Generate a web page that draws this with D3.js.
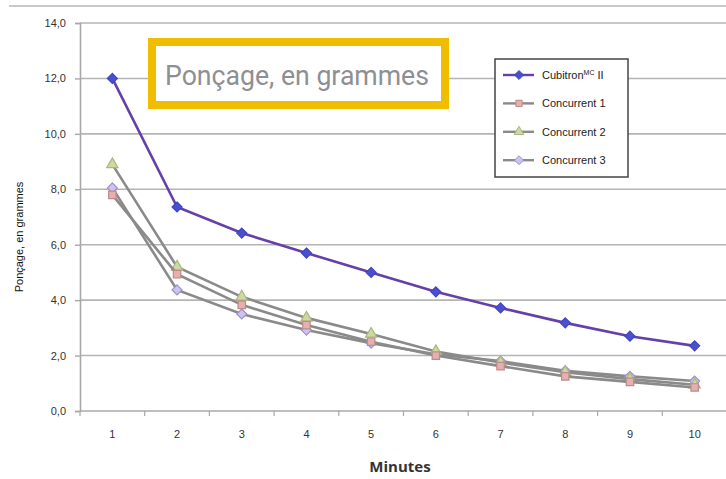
<!DOCTYPE html>
<html>
<head>
<meta charset="utf-8">
<script src="https://cdn.jsdelivr.net/npm/d3@7/dist/d3.min.js"></script>
<style>
html,body{margin:0;padding:0;background:#fff;}
svg{display:block;}
</style>
</head>
<body>
<svg id="chart" width="726" height="479"></svg>
<script>
const minutes = [1,2,3,4,5,6,7,8,9,10];
const cubitron = [12.0,7.36,6.42,5.7,5.0,4.3,3.72,3.18,2.7,2.35];
const concurrent1 = [7.8,4.94,3.83,3.1,2.5,2.0,1.62,1.25,1.05,0.85];
const concurrent2 = [8.9,5.2,4.12,3.36,2.78,2.15,1.75,1.4,1.15,0.95];
const concurrent3 = [8.05,4.37,3.5,2.92,2.45,2.05,1.8,1.45,1.25,1.08];
const seriesNames = ["Cubitron II","Concurrent 1","Concurrent 2","Concurrent 3"];
const yTicks = [0,2,4,6,8,10,12,14];
const titleText = "Ponçage, en grammes";
const yLabel = "Ponçage, en grammes";
const xLabel = "Minutes";

const svg = d3.select("#chart");
const mLeft = 80, mRight = 727, mTop = 23, mBottom = 411;

const x = d3.scaleBand().domain(minutes).range([mLeft, mRight]);
const y = d3.scaleLinear().domain([0,14]).range([mBottom, mTop]);

// top frame line
svg.append("line").attr("x1",9).attr("x2",726).attr("y1",6).attr("y2",6)
  .attr("stroke","#c9c9c9").attr("stroke-width",2);

// gridlines
svg.append("g").selectAll("line").data(yTicks.filter(d=>d>0)).join("line")
  .attr("x1",mLeft).attr("x2",726).attr("y1",d=>y(d)).attr("y2",d=>y(d))
  .attr("stroke","#b4b4b4").attr("stroke-width",1.6);

// y axis
const yAxis = svg.append("g").attr("transform",`translate(${mLeft},0)`)
  .call(d3.axisLeft(y).tickValues(yTicks).tickSize(5).tickPadding(9)
    .tickFormat(d=>d3.format(".1f")(d).replace(".",",")));
yAxis.select(".domain").attr("stroke","#a8a8a8").attr("stroke-width",1.6);
yAxis.selectAll(".tick line").attr("stroke","#a8a8a8").attr("stroke-width",1.4);
yAxis.selectAll("text").attr("font-family","Liberation Sans, Arial, sans-serif")
  .attr("font-size",11).attr("fill","#333");

// x axis
const xAxis = svg.append("g").attr("transform",`translate(0,${mBottom})`)
  .call(d3.axisBottom(x).tickSize(0).tickPadding(19));
xAxis.select(".domain").remove();
svg.append("line").attr("x1",mLeft).attr("x2",726).attr("y1",mBottom).attr("y2",mBottom)
  .attr("stroke","#a8a8a8").attr("stroke-width",1.6);
svg.append("g").selectAll("line").data(minutes).join("line")
  .attr("x1",d=>x(d)).attr("x2",d=>x(d)).attr("y1",mBottom).attr("y2",mBottom+5)
  .attr("stroke","#a8a8a8").attr("stroke-width",1.2);
xAxis.selectAll("text").attr("font-family","Liberation Sans, Arial, sans-serif")
  .attr("font-size",11).attr("fill","#333");

const cx = d => x(d) + x.bandwidth()/2;

const rhombus = {draw(ctx, size){ const r = Math.sqrt(size/2); ctx.moveTo(0,-r); ctx.lineTo(r,0); ctx.lineTo(0,r); ctx.lineTo(-r,0); ctx.closePath(); }};

const series = [
  {name:seriesNames[0], values:cubitron, line:"#6440a8", fill:"#4a4fd2", stroke:"#3f44c0", shape:rhombus, size:50},
  {name:seriesNames[1], values:concurrent1, line:"#8a8a8a", fill:"#e4b0b0", stroke:"#c08a8a", shape:d3.symbolSquare, size:55},
  {name:seriesNames[2], values:concurrent2, line:"#8a8a8a", fill:"#cdd9a0", stroke:"#a8b880", shape:d3.symbolTriangle, size:55},
  {name:seriesNames[3], values:concurrent3, line:"#8a8a8a", fill:"#ccc4ec", stroke:"#9a92c8", shape:rhombus, size:50}
];

const lineGen = d3.line().x((d,i)=>cx(minutes[i])).y(d=>y(d));

[...series].reverse().forEach(s=>{
  svg.append("path").datum(s.values).attr("d",lineGen)
    .attr("fill","none").attr("stroke",s.line).attr("stroke-width",2.6);
  svg.append("g").selectAll("path").data(s.values).join("path")
    .attr("transform",(d,i)=>`translate(${cx(minutes[i])},${y(d)})`)
    .attr("d",d3.symbol().type(s.shape).size(s.size))
    .attr("fill",s.fill).attr("stroke",s.stroke).attr("stroke-width",1.2);
});

// legend
const lg = svg.append("g");
lg.append("rect").attr("x",495).attr("y",59).attr("width",133).attr("height",118)
  .attr("fill","#fff").attr("stroke","#444").attr("stroke-width",1.5);
series.forEach((s,i)=>{
  const ly = 75 + i*28.4;
  lg.append("line").attr("x1",503).attr("x2",534).attr("y1",ly).attr("y2",ly)
    .attr("stroke",s.line).attr("stroke-width",2.4);
  lg.append("path").attr("transform",`translate(519,${ly})`)
    .attr("d",d3.symbol().type(s.shape).size(40))
    .attr("fill",s.fill).attr("stroke",s.stroke).attr("stroke-width",1);
  const t = lg.append("text").attr("x",542).attr("y",ly+4)
    .attr("font-family","Liberation Sans, Arial, sans-serif").attr("font-size",11)
    .attr("fill","#222");
  if(i===0){
    t.append("tspan").text("Cubitron");
    t.append("tspan").attr("font-size",7).attr("dy",-4).text("MC");
    t.append("tspan").attr("dy",4).text(" II");
  } else t.text(s.name);
});

// title box
svg.append("rect").attr("x",152).attr("y",42).attr("width",293).attr("height",63)
  .attr("fill","#fff").attr("stroke","#f0bd00").attr("stroke-width",8);
svg.append("text").attr("x",165).attr("y",85)
  .attr("font-family","Liberation Sans Narrow, Roboto, sans-serif")
  .attr("font-size",28).attr("fill","#8e8f93")
  .attr("textLength",264).attr("lengthAdjust","spacingAndGlyphs")
  .text(titleText);

// y label
svg.append("text").attr("transform","translate(23,237) rotate(-90)")
  .attr("text-anchor","middle").attr("font-family","Liberation Sans, Arial, sans-serif")
  .attr("font-size",11).attr("fill","#111").text(yLabel);

// x label
svg.append("text").attr("x",400).attr("y",472).attr("text-anchor","middle")
  .attr("font-family","Open Sans, Liberation Sans, sans-serif").attr("font-weight","bold")
  .attr("font-size",15).attr("fill","#333").text(xLabel);
</script>
</body>
</html>
